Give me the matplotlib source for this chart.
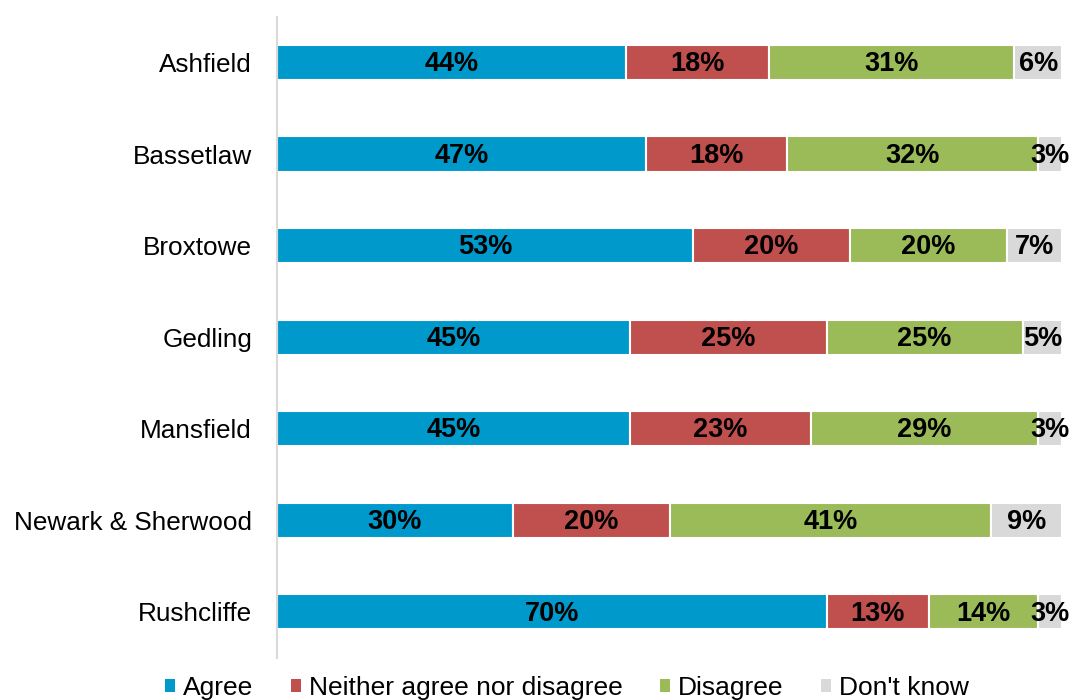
import matplotlib
matplotlib.use("Agg")
import matplotlib.pyplot as plt
from matplotlib.patches import Patch
import numpy as np

plt.rcParams['font.family'] = ['Liberation Sans', 'DejaVu Sans']

districts = ["Ashfield", "Bassetlaw", "Broxtowe", "Gedling", "Mansfield",
             "Newark & Sherwood", "Rushcliffe"]
series_names = ["Agree", "Neither agree nor disagree", "Disagree", "Don't know"]
agree = [44, 47, 53, 45, 45, 30, 70]
neither = [18, 18, 20, 25, 23, 20, 13]
disagree = [31, 32, 20, 25, 29, 41, 14]
dont_know = [6, 3, 7, 5, 3, 9, 3]
colors = ["#0099CC", "#C0504D", "#9BBB59", "#D9D9D9"]

data = np.array([agree, neither, disagree, dont_know], dtype=float)
totals = data.sum(axis=0)
shares = data / totals * 100  # 100% stacked

fig = plt.figure(figsize=(10.72, 7.0), dpi=100)
ax = fig.add_axes([277/1072, 1 - 657.5/700, (1062 - 277)/1072, (657.5 - 16.75)/700])

y = np.arange(len(districts))
left = np.zeros(len(districts))
for i, name in enumerate(series_names):
    ax.barh(y, shares[i], left=left, height=0.385, color=colors[i],
            edgecolor="white", linewidth=1.5, label=name)
    for j in range(len(districts)):
        ax.text(left[j] + shares[i][j] / 2, y[j] + 0.02, f"{int(data[i][j])}%",
                ha="center", va="center", fontsize=19.5, fontweight="bold",
                color="black")
    left += shares[i]

ax.set_xlim(0, 100)
ax.set_ylim(len(districts) - 0.5, -0.5)
ax.set_yticks(y)
ax.set_yticklabels(districts, fontsize=18.8)
ax.tick_params(axis="y", length=0, pad=18)
ax.set_xticks([])
for s in ["top", "right", "bottom"]:
    ax.spines[s].set_visible(False)
ax.spines["left"].set_color("#D9D9D9")
ax.spines["left"].set_linewidth(1.5)

handles = [Patch(facecolor=c, edgecolor="none") for c in colors]
fig.legend(handles, series_names, loc="center", bbox_to_anchor=(567/1072, 1 - 688/700),
           ncol=4, frameon=False, fontsize=19, handlelength=0.38, handleheight=0.38,
           handletextpad=0.3, columnspacing=1.43, borderpad=0, borderaxespad=0)

fig.savefig("out.png", dpi=100)
